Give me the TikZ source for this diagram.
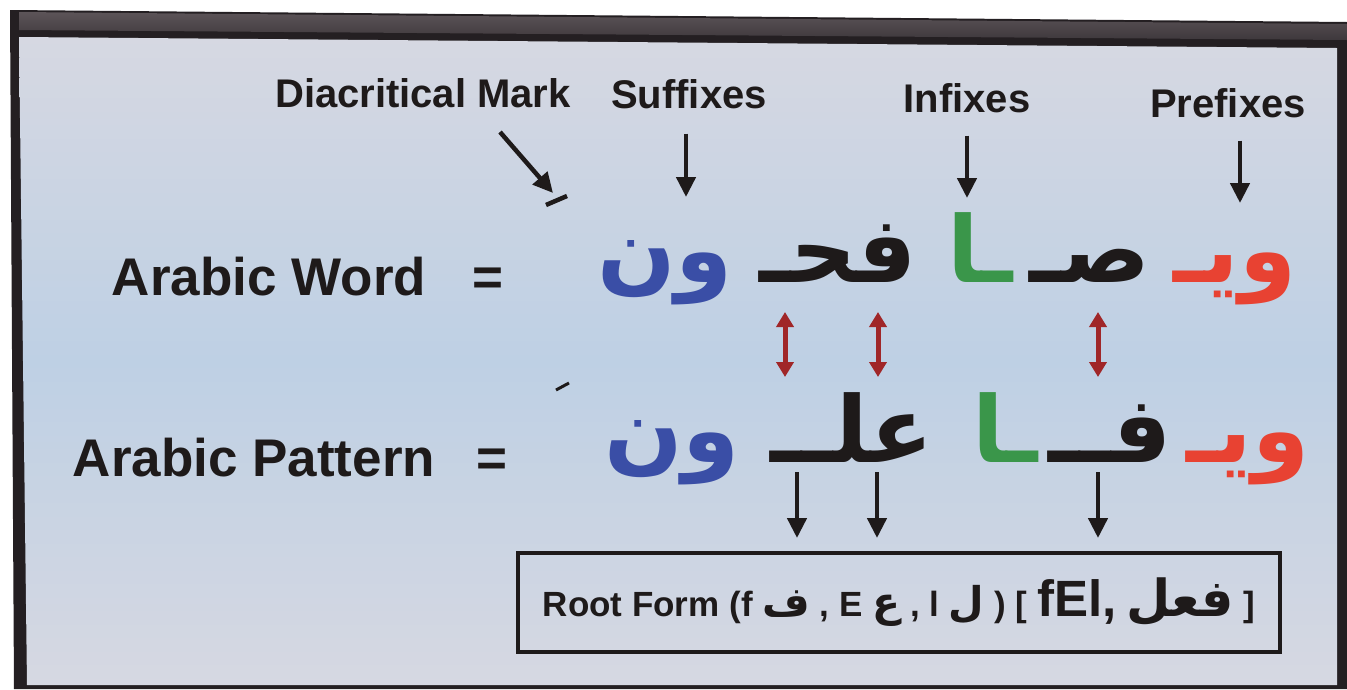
\documentclass[tikz,border=0pt]{standalone}
\usepackage{fontspec}
\setmainfont{Liberation Sans}
\newfontfamily\arabicfont[Script=Arabic]{DejaVu Sans}
\TeXXeTstate=1
\usetikzlibrary{arrows.meta, positioning}
\definecolor{screenblue}{RGB}{190,208,228}
\definecolor{screengrey}{RGB}{214,216,226}
\definecolor{bezel}{RGB}{62,56,60}
\definecolor{bezeltop}{RGB}{92,84,88}
\definecolor{bezeldark}{RGB}{36,31,34}
\definecolor{prefred}{RGB}{232,66,50}
\definecolor{infgreen}{RGB}{58,150,74}
\definecolor{sufblue}{RGB}{58,78,166}
\definecolor{rootblack}{RGB}{30,26,26}
\definecolor{linkred}{RGB}{160,38,40}

\begin{document}
\begin{tikzpicture}[x=1pt, y=-1pt,
  partname/.style={font=\bfseries\fontsize{40}{40}\selectfont, text=rootblack, inner sep=0pt, anchor=base},
  rowname/.style={font=\bfseries\fontsize{53}{53}\selectfont, text=rootblack, inner sep=0pt, anchor=base},
  glyph/.style={font=\arabicfont\bfseries\fontsize{92}{92}\selectfont, inner sep=0pt, anchor=base},
  down/.style={-{Triangle[length=20pt, width=19pt]}, line width=4.5pt, rootblack},
  link/.style={{Triangle[length=15pt, width=17pt]}-{Triangle[length=15pt, width=17pt]}, line width=5pt, linkred}
]
\useasboundingbox (0,0) rectangle (1347,689);
% screen and bezel
\fill[white] (0,0) rectangle (1347,689);
\fill[bezeldark] (10,10) -- (1347,22) -- (1347,689) -- (14,689) -- cycle;
\shade[top color=bezeltop, bottom color=bezel] (19,12) -- (1347,24) -- (1347,40) -- (19,30) -- cycle;
\shade[top color=screengrey, bottom color=screengrey, middle color=screenblue]
  (19,37) -- (1337,48) -- (1337,685) -- (27,685) -- cycle;

% part names
\node[partname] (dia) at (423,107) {Diacritical Mark};
\node[partname] (suf) at (689,108) {Suffixes};
\node[partname] (inf) at (967,112) {Infixes};
\node[partname] (pre) at (1228,117) {Prefixes};

% rows
\node[rowname] (word) at (269,295) {Arabic Word};
\node[rowname] (wordeq) at (488,295) {=};
\node[rowname] (pat) at (254,476) {Arabic Pattern};
\node[rowname] (pateq) at (492,476) {=};

% arabic word
\node[glyph, text=prefred]   (wpre)   at (1235,282) {\beginR ويـ\endR};
\node[glyph, text=rootblack] (wroota) at (1090,282) {\beginR صـ\endR};
\node[glyph, text=infgreen]  (winf)   at (980,282)  {\beginR ـا\endR};
\node[glyph, text=rootblack] (wrootb) at (838,282)  {\beginR فحـ\endR};
\node[glyph, text=sufblue]   (wsuf)   at (665,282)  {\beginR ون\endR};
\draw[line width=4.5pt, rootblack] (546,205) -- (567,196);

% arabic pattern
\node[glyph, text=prefred]   (ppre)   at (1248,462) {\beginR ويـ\endR};
\node[glyph, text=rootblack] (proota) at (1110,462) {\beginR فــ\endR};
\node[glyph, text=infgreen]  (pinf)   at (1005,462) {\beginR ـا\endR};
\node[glyph, text=rootblack] (prootb) at (852,462)  {\beginR علــ\endR};
\node[glyph, text=sufblue]   (psuf)   at (672,462)  {\beginR ون\endR};
\draw[line width=3pt, rootblack] (556,390) -- (569,383);

% root box
\node[draw=rootblack, line width=4pt, minimum width=762pt, minimum height=99pt, inner sep=0pt,
      font=\bfseries\fontsize{35}{35}\selectfont, text=rootblack] (root) at (899,602.5)
  {\raisebox{-7pt}{Root Form (f {\arabicfont\fontsize{41}{41}\selectfont ف} , E {\arabicfont\fontsize{41}{41}\selectfont ع} , l {\arabicfont\fontsize{41}{41}\selectfont ل} ) [ {\fontsize{51}{51}\selectfont fEl,} {\arabicfont\fontsize{51}{51}\selectfont\beginR فعل\endR} ]}};

% arrow ends
\coordinate (diaTail) at (500,132);
\coordinate (diaTip)  at (553,193);
\coordinate (sufTip)  at (686,197);
\coordinate (infTip)  at (967,198);
\coordinate (preTip)  at (1240,203);
\coordinate (lnkA) at (785,312);
\coordinate (lnkB) at (878,312);
\coordinate (lnkC) at (1098,312);
\coordinate (lnkAb) at (785,377);
\coordinate (lnkBb) at (878,377);
\coordinate (lnkCb) at (1098,377);
\coordinate (rtA) at (797,472);
\coordinate (rtB) at (877,472);
\coordinate (rtC) at (1098,472);

\draw[down] (diaTail) -- (diaTip);
\draw[down, shorten <=25pt] (suf.south -| sufTip) -- (sufTip);
\draw[down, shorten <=23pt] (inf.south -| infTip) -- (infTip);
\draw[down, shorten <=23pt] (pre.south -| preTip) -- (preTip);

\draw[link] (lnkA) -- (lnkAb);
\draw[link] (lnkB) -- (lnkBb);
\draw[link] (lnkC) -- (lnkCb);

\draw[down, shorten >=13pt] (rtA) -- (rtA |- root.north);
\draw[down, shorten >=13pt] (rtB) -- (rtB |- root.north);
\draw[down, shorten >=13pt] (rtC) -- (rtC |- root.north);
\end{tikzpicture}
\end{document}
